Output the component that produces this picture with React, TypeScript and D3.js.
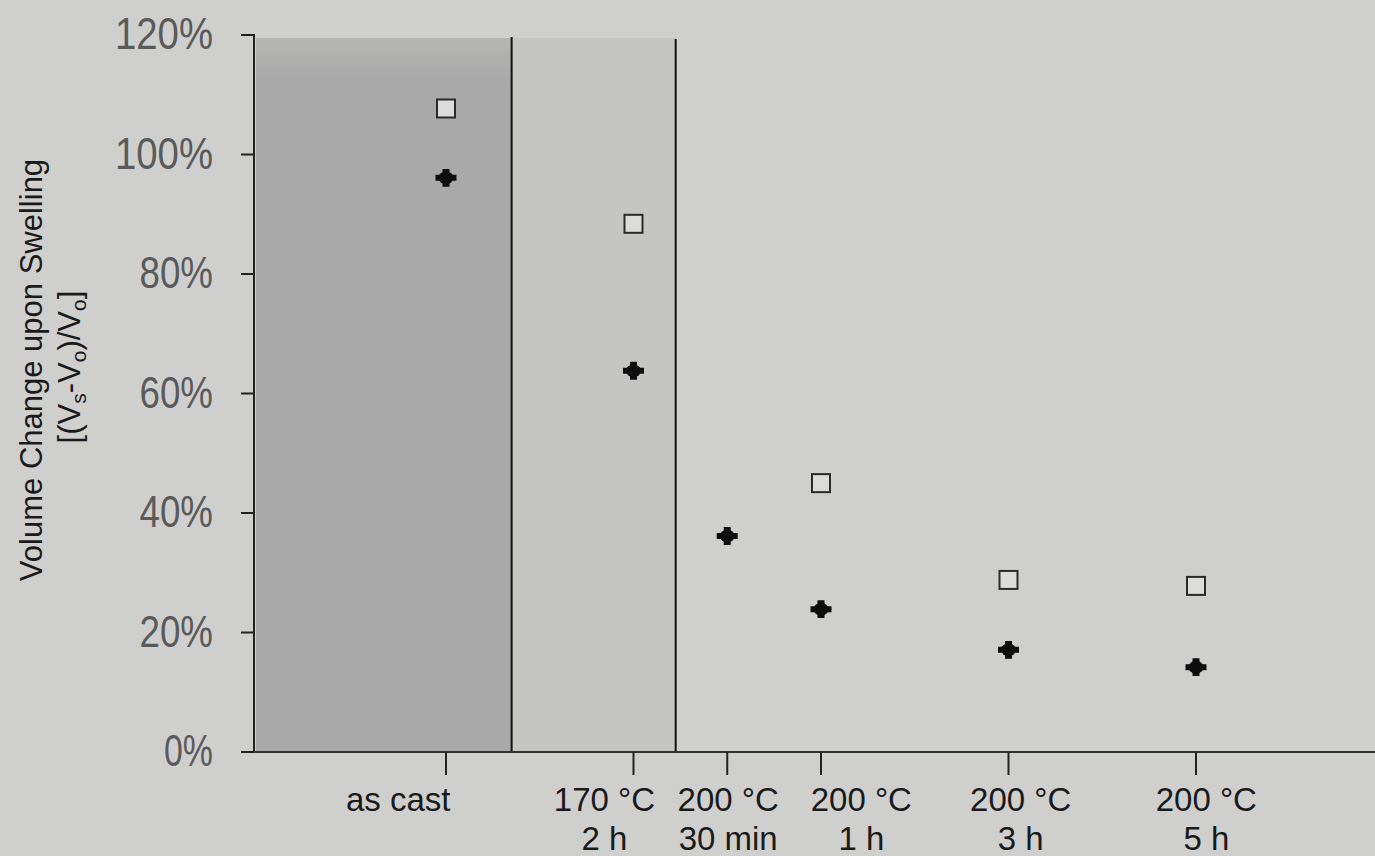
import React from "react";
import * as d3 from "d3";

// ---- data ----
const categories: string[][] = [
  ["as cast"],
  ["170 °C", "2 h"],
  ["200 °C", "30 min"],
  ["200 °C", "1 h"],
  ["200 °C", "3 h"],
  ["200 °C", "5 h"],
];
const xValues: number[] = [0, 2, 3, 4, 6, 8];
const labelCenters: number[] = [-0.51, 1.69, 3.01, 4.43, 6.13, 8.11];
const openSquares: (number | null)[] = [1.077, 0.884, null, 0.45, 0.288, 0.278];
const filledMarks: number[] = [0.961, 0.638, 0.3615, 0.239, 0.171, 0.142];
const yTicks: number[] = [0, 0.2, 0.4, 0.6, 0.8, 1.0, 1.2];
const regionBounds: number[] = [0.7, 2.45];

const W = 1375;
const H = 856;
const axisLeft = 254;
const axisRight = 1375;
const axisBottom = 752;
const axisTop = 35;

export default function App() {
  const x = d3.scaleLinear().domain([0, 8]).range([446, 1196]);
  const y = d3.scaleLinear().domain([0, 1.2]).range([axisBottom, axisTop]);
  const pct = d3.format(".0%");
  const cross = d3.symbol().type(d3.symbolCross).size(245)();

  return (
    <svg
      width={W}
      height={H}
      style={{ position: "absolute", left: 0, top: 0, display: "block" }}
    >
      <defs>
        <linearGradient id="darkGrad" x1="0" y1="0" x2="0" y2="1">
          <stop offset="0" stopColor="#b6b6b5" />
          <stop offset="0.06" stopColor="#a9a9a9" />
          <stop offset="1" stopColor="#a9a9a9" />
        </linearGradient>
      </defs>
      <rect x={0} y={0} width={W} height={H} fill="#cfd0ce" />
      {/* shaded regions */}
      <rect
        x={axisLeft + 2}
        y={38}
        width={x(regionBounds[0]) - axisLeft - 2}
        height={axisBottom - 38}
        fill="url(#darkGrad)"
      />
      <rect
        x={x(regionBounds[0])}
        y={38}
        width={x(regionBounds[1]) - x(regionBounds[0])}
        height={axisBottom - 38}
        fill="#c5c6c4"
      />
      {/* region dividers */}
      <line x1={x(regionBounds[0])} x2={x(regionBounds[0])} y1={37} y2={axisBottom} stroke="#111" strokeWidth={2} />
      <line x1={x(regionBounds[1])} x2={x(regionBounds[1])} y1={39} y2={axisBottom} stroke="#111" strokeWidth={2} />

      {/* y axis */}
      <line x1={axisLeft} x2={axisLeft} y1={axisTop - 1} y2={axisBottom + 1} stroke="#222" strokeWidth={2} />
      {yTicks.map((t) => (
        <g key={t}>
          <line x1={241} x2={axisLeft} y1={y(t)} y2={y(t)} stroke="#222" strokeWidth={2} />
          <text
            x={213}
            y={y(t) + 14}
            textAnchor="end"
            fontFamily="'Liberation Sans', Arial, sans-serif"
            fontSize={45}
            fill="#5a5a5a"
            textLength={pct(t).length * 24.5}
            lengthAdjust="spacingAndGlyphs"
          >
            {pct(t)}
          </text>
        </g>
      ))}

      {/* x axis */}
      <line x1={axisLeft} x2={axisRight} y1={axisBottom} y2={axisBottom} stroke="#333" strokeWidth={2} />
      {xValues.map((v, i) => (
        <line key={i} x1={x(v)} x2={x(v)} y1={axisBottom} y2={775} stroke="#222" strokeWidth={2} />
      ))}
      {categories.map((lines, i) => (
        <text
          key={i}
          textAnchor="middle"
          fontFamily="'Liberation Sans', Arial, sans-serif"
          fontSize={33}
          fill="#1a1a1a"
        >
          {lines.map((ln, j) => (
            <tspan key={j} x={x(labelCenters[i])} y={811 + j * 39}>
              {ln}
            </tspan>
          ))}
        </text>
      ))}

      {/* markers */}
      {openSquares.map((v, i) =>
        v == null ? null : (
          <rect
            key={i}
            x={x(xValues[i]) - 9}
            y={y(v) - 9}
            width={18}
            height={18}
            fill="#dcdcdb"
            stroke="#2a2a2a"
            strokeWidth={2}
          />
        )
      )}
      {filledMarks.map((v, i) => (
        <g key={i} transform={`translate(${x(xValues[i])},${y(v)}) scale(1,0.85)`}>
          <circle r={7.5} fill="#0d0d0d" />
          <path d={cross as string} fill="#0d0d0d" />
        </g>
      ))}

      {/* y title */}
      <text
        transform={`translate(42,370) rotate(-90)`}
        textAnchor="middle"
        fontFamily="'Liberation Sans', Arial, sans-serif"
        fontSize={31}
        fill="#1a1a1a"
      >
        Volume Change upon Swelling
      </text>
      <text
        transform={`translate(80,367) rotate(-90)`}
        textAnchor="middle"
        fontFamily="'Liberation Sans', Arial, sans-serif"
        fontSize={31}
        fill="#1a1a1a"
      >
        [(V
        <tspan fontSize={21} dy={6}>s</tspan>
        <tspan dy={-6}>-V</tspan>
        <tspan fontSize={21} dy={6}>o</tspan>
        <tspan dy={-6}>)/V</tspan>
        <tspan fontSize={21} dy={6}>o</tspan>
        <tspan dy={-6}>]</tspan>
      </text>
    </svg>
  );
}
